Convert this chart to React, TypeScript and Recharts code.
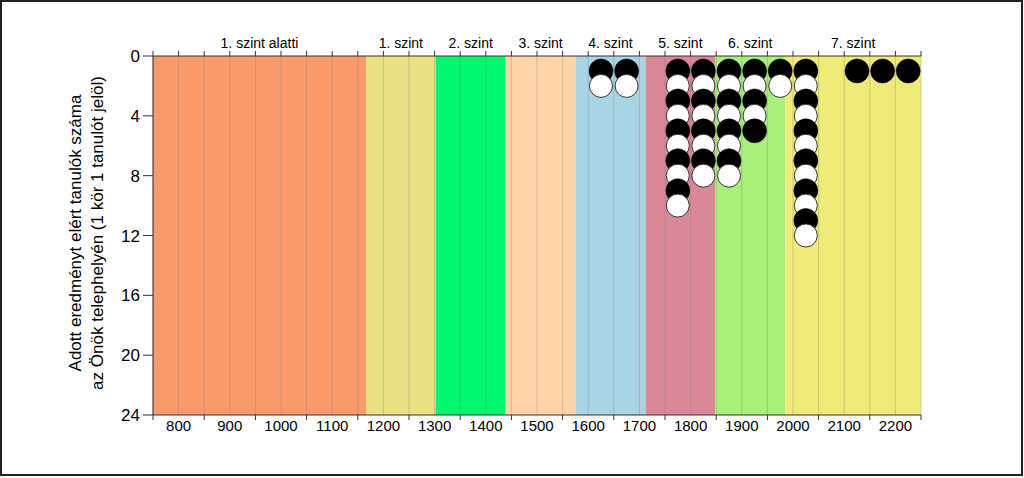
import React from 'react';
import { ComposedChart, Scatter, XAxis, YAxis, ReferenceArea, ReferenceLine } from 'recharts';

const bandNames = ['1. szint alatti', '1. szint', '2. szint', '3. szint', '4. szint', '5. szint', '6. szint', '7. szint'];
const bandStarts = [750, 1166, 1302, 1439, 1575, 1712, 1848, 1985];
const bandEnds = [1166, 1302, 1439, 1575, 1712, 1848, 1985, 2250];
const bandColors = ['#F99A6D', '#EAE084', '#00F870', '#FFD3A8', '#A9D4E4', '#DA8898', '#A8F07A', '#F0EA78'];

const columnScores = [1625, 1675, 1775, 1825, 1875, 1925, 1975, 2025, 2125, 2175, 2225];
const columnCounts = [2, 2, 10, 8, 8, 5, 2, 12, 1, 1, 1];

const xTickLabels = [800, 900, 1000, 1100, 1200, 1300, 1400, 1500, 1600, 1700, 1800, 1900, 2000, 2100, 2200];
const gridValues = [750, 800, 850, 900, 950, 1000, 1050, 1100, 1150, 1200, 1250, 1300, 1350, 1400, 1450, 1500, 1550, 1600, 1650, 1700, 1750, 1800, 1850, 1900, 1950, 2000, 2050, 2100, 2150, 2200, 2250];
const yTicks = [0, 4, 8, 12, 16, 20, 24];

const FONT = '"Liberation Sans", Arial, sans-serif';

const bandCenters = bandStarts.map((s, i) => (s + bandEnds[i]) / 2);

const points: { x: number; y: number; filled: boolean }[] = [];
columnScores.forEach((score, i) => {
  for (let n = 1; n <= columnCounts[i]; n++) {
    points.push({ x: score, y: n, filled: n % 2 === 1 });
  }
});

const TopTick = (props: any) => {
  const { x, y, payload } = props;
  const v = payload.value;
  const idx = bandCenters.indexOf(v);
  if (idx >= 0) {
    return (
      <text x={x} y={y - 8} textAnchor="middle" fontSize={14} fontFamily={FONT} fill="#000">
        {bandNames[idx]}
      </text>
    );
  }
  return <line x1={x} x2={x} y1={y} y2={y - 5} stroke="#333" strokeWidth={1} />;
};

const BottomTick = (props: any) => {
  const { x, y, payload } = props;
  const v = payload.value;
  if (xTickLabels.indexOf(v) >= 0) {
    return (
      <text x={x} y={y + 16} textAnchor="middle" fontSize={15} fontFamily={FONT} fill="#000">
        {v}
      </text>
    );
  }
  return <line x1={x} x2={x} y1={y} y2={y + 5} stroke="#333" strokeWidth={1} />;
};

const Dot = (props: any) => {
  const { cx, cy, payload } = props;
  if (cx == null || cy == null) return null;
  return payload.filled ? (
    <circle cx={cx} cy={cy} r={12} fill="#000" stroke="#000" strokeWidth={0.5} />
  ) : (
    <circle cx={cx} cy={cy} r={11.5} fill="#fff" stroke="#333" strokeWidth={1} />
  );
};

const YLabel = () => (
  <g fontFamily={FONT} fontSize={17} fill="#000">
    <text x={75} y={233} transform="rotate(-90 75 233)" textAnchor="middle" dominantBaseline="central">
      Adott eredményt elért tanulók száma
    </text>
    <text x={97} y={233} transform="rotate(-90 97 233)" textAnchor="middle" dominantBaseline="central">
      az Önök telephelyén (1 kör 1 tanulót jelöl)
    </text>
  </g>
);

export default function App() {
  const topTicks = [...gridValues, ...bandCenters].sort((a, b) => a - b);
  return (
    <div style={{ position: 'absolute', left: 0, top: 0, width: 1024, height: 478, background: '#fff' }}>
      <ComposedChart
        width={1024}
        height={478}
        data={points}
        margin={{ top: 0, right: 103, bottom: 0, left: 0 }}
      >
        <XAxis
          xAxisId="bottom"
          type="number"
          dataKey="x"
          domain={[750, 2250]}
          ticks={gridValues}
          interval={0}
          orientation="bottom"
          height={63}
          tickLine={false}
          tickSize={0}
          tickMargin={0}
          axisLine={{ stroke: '#333', strokeWidth: 1 }}
          tick={<BottomTick />}
          allowDataOverflow
        />
        <XAxis
          xAxisId="top"
          type="number"
          dataKey="x"
          domain={[750, 2250]}
          ticks={topTicks}
          interval={0}
          orientation="top"
          height={56}
          tickLine={false}
          tickSize={0}
          tickMargin={0}
          axisLine={{ stroke: '#333', strokeWidth: 1 }}
          tick={<TopTick />}
          allowDataOverflow
        />
        <YAxis
          type="number"
          dataKey="y"
          domain={[0, 24]}
          reversed
          ticks={yTicks}
          interval={0}
          width={153}
          tickSize={10}
          tickMargin={3}
          tickLine={{ stroke: '#333' }}
          axisLine={{ stroke: '#333', strokeWidth: 1 }}
          tick={{ fontSize: 17, fontFamily: FONT, fill: '#000' }}
          label={{ content: () => <YLabel /> }}
          allowDataOverflow
        />
        {bandStarts.map((s, i) => (
          <ReferenceArea
            key={'band' + i}
            xAxisId="bottom"
            x1={s}
            x2={bandEnds[i]}
            y1={0}
            y2={24}
            fill={bandColors[i]}
            fillOpacity={1}
            stroke="none"
            ifOverflow="hidden"
          />
        ))}
        {gridValues.map((g) => (
          <ReferenceLine
            key={'g' + g}
            xAxisId="bottom"
            x={g}
            stroke="#777"
            strokeOpacity={0.3}
            strokeWidth={1}
          />
        ))}
        <Scatter xAxisId="bottom" dataKey="y" data={points} shape={<Dot />} isAnimationActive={false} />
      </ComposedChart>
      <div
        style={{
          position: 'absolute',
          left: 0,
          top: 0,
          width: 1023,
          height: 476,
          boxSizing: 'border-box',
          border: '2px solid #222',
          pointerEvents: 'none',
        }}
      />
    </div>
  );
}
